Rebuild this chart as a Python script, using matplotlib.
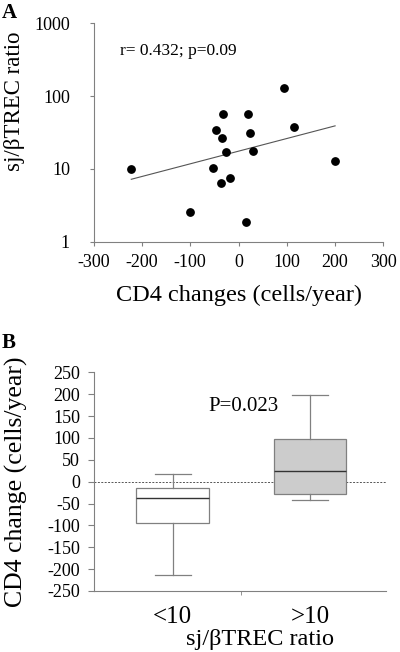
import matplotlib
matplotlib.use("Agg")
import matplotlib.pyplot as plt

plt.rcParams['font.family'] = ['Liberation Serif', 'DejaVu Serif']
plt.rcParams['axes.unicode_minus'] = False

# panel A: CD4 change vs sj/bTREC ratio
cd4_change = [-222, -101, -53, -47, -35, -32, -37, -25, -17, 16, 20, 23, 30, 95, 114, 200]
trec_ratio = [10, 2.54, 10.3, 34.6, 26.8, 57, 6.5, 17, 7.5, 1.87, 57, 31.5, 17.4, 130, 37.7, 12.8]
fit_x = [-222, 200]
fit_y = [7.2, 39]

# panel B: box statistics
groups = ['<10', '>10']
whis_lo = [-213, -42]
q1 = [-94, -27.5]
median = [-37, 24]
q3 = [-14.5, 97.5]
whis_hi = [17.5, 197]
box_colors = ['white', '#cccccc']

spine_col = '#808080'

fig = plt.figure(figsize=(4, 6.52), dpi=100)

# ---------- A ----------
ax1 = fig.add_axes([0.234, 0.6293, 0.7245, 0.335])
ax1.scatter(cd4_change, trec_ratio, s=28, color='black', zorder=3)
ax1.plot(fit_x, fit_y, color='#555555', lw=0.8)
ax1.set_yscale('log')
ax1.set_ylim(1, 1000)
ax1.set_xlim(-300, 300)
ax1.set_xticks([-300, -200, -100, 0, 100, 200, 300])
ax1.set_yticks([1, 10, 100, 1000])
ax1.set_yticklabels(['1', '10', '100', '1000'])
ax1.minorticks_off()
for s in ['top', 'right']:
    ax1.spines[s].set_visible(False)
for s in ['left', 'bottom']:
    ax1.spines[s].set_color(spine_col)
ax1.tick_params(labelsize=13, length=3, color=spine_col)
ax1.tick_params(axis='x', pad=6)
ax1.tick_params(axis='y', pad=14)
ax1.text(-246, 410, 'r= 0.432; p=0.09', fontsize=12.5, va='center')
fig.text(239 / 400, 1 - 295 / 652, 'CD4 changes (cells/year)', fontsize=17.5,
         ha='center', va='center')
fig.text(15 / 400, 1 - 101 / 652, 'sj/βTREC ratio', fontsize=16.5, rotation=90,
         ha='center', va='center')
fig.text(0.005, 0.995, 'A', fontsize=15, fontweight='bold', va='top')

# ---------- B ----------
ax2 = fig.add_axes([0.235, 0.0936, 0.73, 0.3354])
stats = []
for i in range(len(groups)):
    stats.append({'med': median[i], 'q1': q1[i], 'q3': q3[i],
                  'whislo': whis_lo[i], 'whishi': whis_hi[i], 'fliers': []})
bp = ax2.bxp(stats, positions=[1, 2], widths=0.53, patch_artist=True,
             showfliers=False,
             boxprops=dict(edgecolor=spine_col, linewidth=0.9),
             whiskerprops=dict(color=spine_col, linewidth=0.9),
             capprops=dict(color=spine_col, linewidth=0.9),
             medianprops=dict(color='#333333', linewidth=1.0),
             capwidths=0.26)
for patch, c in zip(bp['boxes'], box_colors):
    patch.set_facecolor(c)
ax2.axhline(0, color='#555555', lw=0.7, ls=(0, (2, 1.5)), zorder=0)
ax2.set_xlim(0.426, 2.555)
ax2.set_ylim(-250, 250)
ax2.set_yticks(range(-250, 251, 50))
ax2.set_xticks([1, 2])
ax2.set_xticklabels(groups)
ax2.set_xticks([1.5], minor=True)
ax2.tick_params(axis='x', which='major', length=0, labelsize=18, pad=11)
ax2.tick_params(axis='x', which='minor', length=3, color=spine_col)
ax2.tick_params(axis='y', labelsize=13, length=4, color=spine_col, pad=6)
for s in ['top', 'right']:
    ax2.spines[s].set_visible(False)
for s in ['left', 'bottom']:
    ax2.spines[s].set_color(spine_col)
ax2.text(1.263, 172, 'P=0.023', fontsize=15, va='center')
fig.text(260 / 400, 1 - 640 / 652, 'sj/βTREC ratio', fontsize=17.5,
         ha='center', va='center')
fig.text(16 / 400, 1 - 482 / 652, 'CD4 change (cells/year)', fontsize=18.5,
         rotation=90, ha='center', va='center')
fig.text(0.005, 1 - 333 / 652, 'B', fontsize=15, fontweight='bold', va='top')

fig.savefig('out.png', dpi=100)
